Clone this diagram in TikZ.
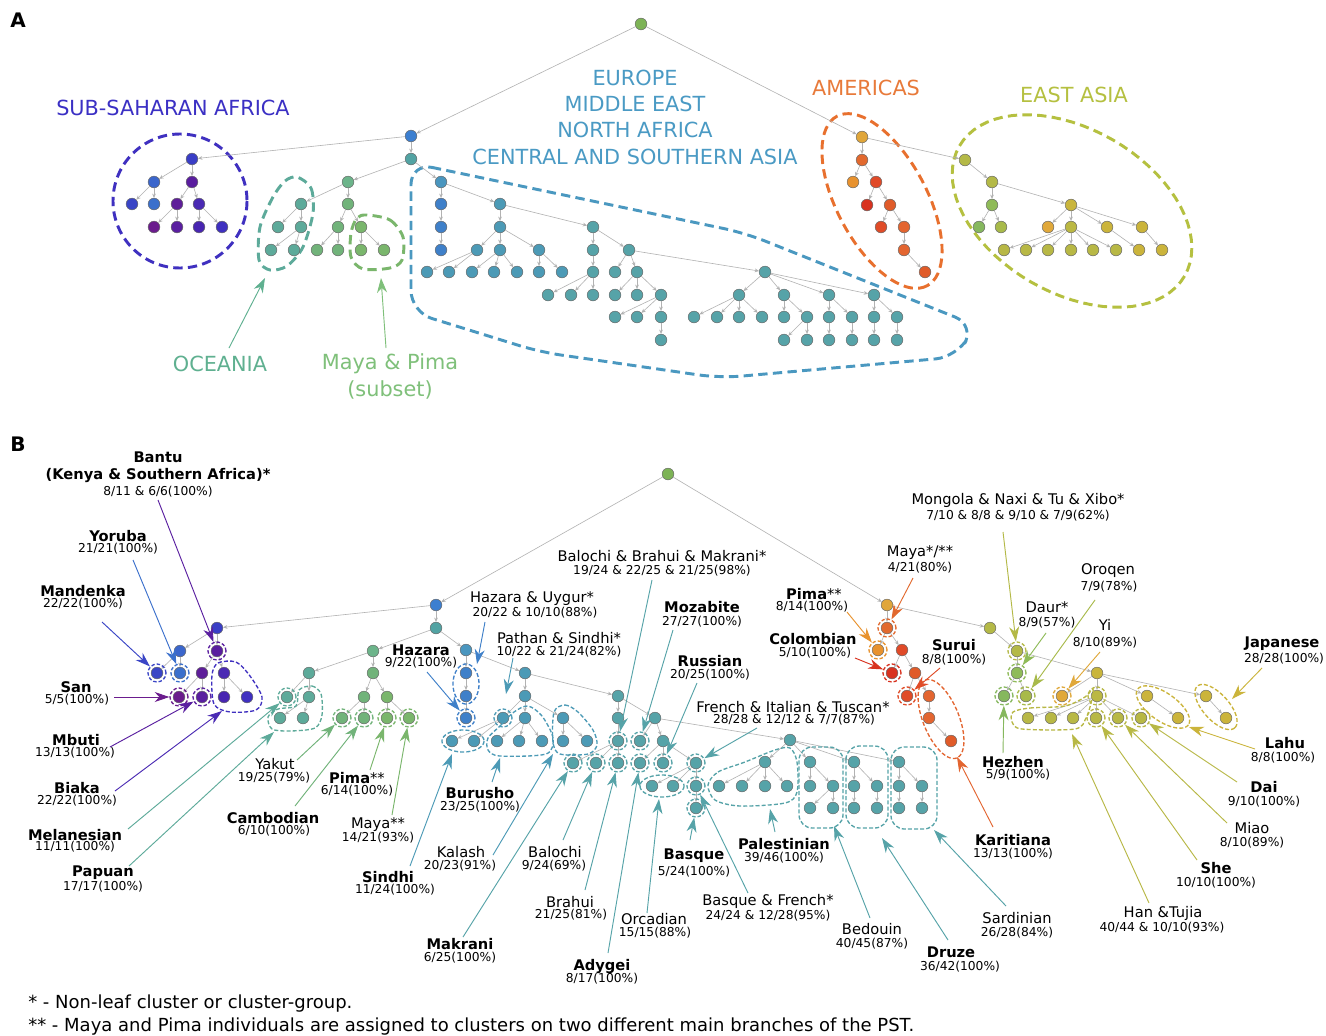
\documentclass[tikz,border=0pt]{standalone}
\usepackage{fontspec}
\setmainfont{DejaVu Sans}
\usetikzlibrary{arrows.meta}
\definecolor{kroot}{HTML}{7DB356}
\definecolor{ke0}{HTML}{3C7FD0}
\definecolor{ke1}{HTML}{52A3A3}
\definecolor{kaf0}{HTML}{3A3EC6}
\definecolor{kaf1}{HTML}{3B66CC}
\definecolor{kaf2}{HTML}{5A1D9F}
\definecolor{kaf3}{HTML}{3A45C6}
\definecolor{kaf4}{HTML}{3B70CC}
\definecolor{kaf5}{HTML}{5E1E99}
\definecolor{kaf6}{HTML}{4A2AB3}
\definecolor{kaf7}{HTML}{6B1C8D}
\definecolor{kaf8}{HTML}{5A1FA0}
\definecolor{kaf9}{HTML}{4825B1}
\definecolor{kaf10}{HTML}{3F30C0}
\definecolor{koc0}{HTML}{6CB48A}
\definecolor{kocT}{HTML}{5DAA9A}
\definecolor{kocG}{HTML}{71B37A}
\definecolor{kocG2}{HTML}{7AB66C}
\definecolor{kca0}{HTML}{4A96BF}
\definecolor{kcaB}{HTML}{3F80C9}
\definecolor{kcaT}{HTML}{4C9AB6}
\definecolor{keu}{HTML}{56A3A8}
\definecolor{kam0}{HTML}{E0A63A}
\definecolor{kam1}{HTML}{E2692E}
\definecolor{kam2}{HTML}{E8922E}
\definecolor{kam3}{HTML}{E04A28}
\definecolor{kam4}{HTML}{D8321F}
\definecolor{kam5}{HTML}{E05B29}
\definecolor{kam6}{HTML}{E04C28}
\definecolor{kam7}{HTML}{E36530}
\definecolor{kea0}{HTML}{B4B947}
\definecolor{kea2}{HTML}{8FBB58}
\definecolor{kea3}{HTML}{86B85E}
\definecolor{kea4}{HTML}{A8BA4A}
\definecolor{kea5}{HTML}{C9B53C}
\definecolor{kea6}{HTML}{E0A83A}
\definecolor{kea7}{HTML}{BBB843}
\definecolor{keaY}{HTML}{CBB43B}
\definecolor{keaL}{HTML}{B8B845}
\definecolor{ktAf}{HTML}{3B30C4}
\definecolor{ktEu}{HTML}{4A9AC4}
\definecolor{ktAm}{HTML}{E87A3A}
\definecolor{ktEa}{HTML}{B5C040}
\definecolor{ktOc}{HTML}{5FB090}
\definecolor{ktMp}{HTML}{7FC07A}
\definecolor{kaEu}{HTML}{4A98C0}
\definecolor{kaAm}{HTML}{E8702E}
\newcommand\drawtree[1]{%
\foreach \p/\q in {R/E0,R/AM0,E0/AF0,E0/E1,AF0/AF1,AF0/AF2,AF1/AF3,AF1/AF4,AF2/AF5,AF2/AF6,AF5/AF7,AF5/AF8,AF6/AF9,AF6/AF10,E1/OC0,E1/CA0,OC0/OC1,OC0/OC2,OC1/OC3,OC1/OC4,OC4/OC7,OC4/OC8,OC2/OC5,OC2/OC6,OC5/OC9,OC5/OC10,OC6/OC11,OC6/OC12,CA0/CA1,CA1/CA2,CA2/CA3,CA0/CA4,CA4/CA5,CA5/CA6,CA5/CA7,CA5/CA8,CA6/CA9,CA6/CA10,CA7/CA11,CA7/CA12,CA7/CA13,CA8/CA14,CA8/CA15,CA4/EU0,EU0/EU1,EU0/EU2,EU1/EU3,EU3/EU4,EU3/EU5,EU3/EU6,EU2/EU7,EU2/EU8,EU8/EU9,EU8/EU10,EU8/EU11,EU11/EU12,EU11/EU13,EU11/EU14,EU14/EU15,EU2/EU16,EU16/EU17,EU16/EU18,EU16/EU19,EU16/EU20,EU17/EU21,EU17/EU22,EU17/EU23,EU17/EU24,EU18/EU25,EU18/EU26,EU26/EU27,EU26/EU28,EU19/EU29,EU19/EU30,EU29/EU31,EU30/EU32,EU20/EU33,EU20/EU34,EU33/EU35,EU34/EU36,AM0/AM1,AM1/AM2,AM1/AM3,AM3/AM4,AM3/AM5,AM5/AM6,AM5/AM7,AM7/AM8,AM8/AM9,AM0/EA0,EA0/EA1,EA1/EA2,EA2/EA3,EA2/EA4,EA1/EA5,EA5/EA6,EA5/EA7,EA5/EA8,EA5/EA9,EA7/EA10,EA7/EA11,EA7/EA12,EA7/EA13,EA7/EA14,EA7/EA15,EA8/EA16,EA9/EA17}
{\draw[tedge] (#1\p) -- (#1\q);}}
\newcommand\pell[6][]{\draw[#1] plot[domain=0:360,samples=73] ({#2+#4*cos(\x)*cos(#6)-#5*sin(\x)*sin(#6)},{#3+#4*cos(\x)*sin(#6)+#5*sin(\x)*cos(#6)}) -- cycle;}
\begin{document}
\begin{tikzpicture}[x=0.75pt,y=-0.75pt,
 tn/.style={circle,draw=black!60,line width=0.35pt,minimum size=8.8pt,inner sep=0pt,fill=#1},
 tedge/.style={draw=black!30,line width=0.45pt,-{Stealth[length=3.2pt,width=2.8pt]}},
 dc/.style={circle,draw=#1,line width=1pt,dash pattern=on 2.6pt off 1.5pt,minimum size=13.5pt,inner sep=0pt},
 blob/.style={draw=#1,line width=1pt,dash pattern=on 3pt off 1.6pt},
 bigd/.style={draw=#1,line width=2.2pt,dash pattern=on 7pt off 4pt},
 ar/.style={draw=#1,line width=0.7pt,-{Stealth[length=11pt,width=7.5pt,inset=3.5pt]}},
 nb/.style={font=\fontsize{11}{13}\selectfont\bfseries,inner sep=0pt},
 nr/.style={font=\fontsize{11}{13}\selectfont,inner sep=0pt},
 st/.style={font=\fontsize{9.2}{11}\selectfont,inner sep=0pt},
 rg/.style={font=\fontsize{15.6}{18}\selectfont,text=#1,inner sep=0pt},
]
\useasboundingbox[fill=white] (0,0) rectangle (1326,1035);

% ================= PANEL A =================
\node[font=\fontsize{15}{18}\selectfont\bfseries,inner sep=0pt] (labA) at (18,20) {A};
\node[rg=ktAf] (tAf) at (173,108) {SUB-SAHARAN AFRICA};
\node[rg=ktEu] (tEu1) at (635,78) {EUROPE};
\node[rg=ktEu] (tEu2) at (635,104) {MIDDLE EAST};
\node[rg=ktEu] (tEu3) at (635,130) {NORTH AFRICA};
\node[rg=ktEu] (tEu4) at (635,157) {CENTRAL AND SOUTHERN ASIA};
\node[rg=ktAm] (tAm) at (866,88) {AMERICAS};
\node[rg=ktEa] (tEa) at (1074,95) {EAST ASIA};
\node[rg=ktOc] (tOc) at (220,364) {OCEANIA};
\node[rg=ktMp] (tMp1) at (390,364) {Maya \& Pima};
\node[rg=ktMp] (tMp2) at (390,390) {(subset)};

% region outlines
\draw[bigd=kaf10] (180,201) circle[radius=67];
\draw[bigd=kocT] plot[smooth cycle] coordinates {(297,177) (311,188) (313,213) (303,247) (287,266) (270,270) (259,260) (260,227) (273,197) (285,181)};
\draw[bigd=kocG2] plot[smooth cycle] coordinates {(367,215) (390,220) (403,237) (402,260) (390,268) (363,269) (351,257) (351,233) (357,218)};
\draw[bigd=kaEu,rounded corners=16pt] (411,163) -- (745,233) -- (975,325) -- (957,357) -- (720,378) -- (540,352) -- (411,312) -- cycle;
\pell[bigd=kaAm]{882}{201}{96}{45}{62}
\pell[bigd=ktEa]{1072}{211}{130}{82}{30}

\coordinate (sOcA) at (229,348);
\coordinate (eOcA) at (265,278);
\coordinate (sMpA) at (386,348);
\coordinate (eMpA) at (381,278);
\draw[ar=ktOc] (sOcA) -- (eOcA);
\draw[ar=ktMp] (sMpA) -- (eMpA);

\foreach \n/\x/\y/\c in {aR/641/24/kroot,aE0/411/136/ke0,aE1/411/159/ke1,
aAF0/192/159/kaf0,aAF1/154/182/kaf1,aAF2/192/182/kaf2,aAF3/132/204/kaf3,aAF4/154/204/kaf4,aAF5/177/204/kaf5,aAF6/199/204/kaf6,aAF7/154/227/kaf7,aAF8/177/227/kaf8,aAF9/199/227/kaf9,aAF10/222/227/kaf10,
aOC0/348/182/koc0,aOC1/301/204/kocT,aOC2/348/204/kocG,aOC3/278/227/kocT,aOC4/301/227/kocT,aOC5/338/227/kocG,aOC6/361/227/kocG2,aOC7/271/250/kocT,aOC8/294/250/kocT,aOC9/317/250/kocG,aOC10/338/250/kocG,aOC11/361/250/kocG2,aOC12/384/250/kocG2,
aCA0/441/182/kca0,aCA1/441/204/kcaB,aCA2/441/227/kcaB,aCA3/441/250/kcaB,aCA4/500/204/kcaT,aCA5/500/227/kcaT,aCA6/477/250/kcaT,aCA7/500/250/kcaT,aCA8/539/250/kcaT,aCA9/427/272/kcaT,aCA10/449/272/kcaT,aCA11/472/272/kcaT,aCA12/494/272/kcaT,aCA13/517/272/kcaT,aCA14/539/272/kcaT,aCA15/562/272/kcaT,
aEU0/593/227/keu,aEU1/593/250/keu,aEU2/629/250/keu,aEU3/593/272/keu,aEU4/548/295/keu,aEU5/571/295/keu,aEU6/593/295/keu,aEU7/615/272/keu,aEU8/637/272/keu,aEU9/615/295/keu,aEU10/637/295/keu,aEU11/661/295/keu,aEU12/615/317/keu,aEU13/637/317/keu,aEU14/661/317/keu,aEU15/661/340/keu,
aEU16/765/272/keu,aEU17/739/295/keu,aEU18/784/295/keu,aEU19/829/295/keu,aEU20/874/295/keu,aEU21/694/317/keu,aEU22/717/317/keu,aEU23/739/317/keu,aEU24/762/317/keu,aEU25/784/317/keu,aEU26/807/317/keu,aEU27/784/340/keu,aEU28/807/340/keu,aEU29/829/317/keu,aEU30/852/317/keu,aEU31/829/340/keu,aEU32/852/340/keu,aEU33/874/317/keu,aEU34/897/317/keu,aEU35/874/340/keu,aEU36/897/340/keu,
aAM0/862/137/kam0,aAM1/862/160/kam1,aAM2/853/182/kam2,aAM3/876/182/kam3,aAM4/867/205/kam4,aAM5/890/205/kam5,aAM6/881/227/kam6,aAM7/904/227/kam7,aAM8/904/250/kam7,aAM9/925/272/kam5,
aEA0/965/160/kea0,aEA1/992/182/kea0,aEA2/992/205/kea2,aEA3/979/227/kea3,aEA4/1001/227/kea4,aEA5/1071/205/kea5,aEA6/1048/227/kea6,aEA7/1071/227/kea7,aEA8/1107/227/keaY,aEA9/1142/227/keaY,
aEA10/1004/250/keaL,aEA11/1026/250/keaL,aEA12/1048/250/keaL,aEA13/1071/250/keaL,aEA14/1093/250/keaL,aEA15/1116/250/keaL,aEA16/1139/250/keaY,aEA17/1162/250/keaY}
{\node[tn=\c] (\n) at (\x,\y) {};}
\drawtree{a}

% ================= PANEL B =================
\node[font=\fontsize{15}{18}\selectfont\bfseries,inner sep=0pt] (labB) at (18,444) {B};

\foreach \n/\x/\y/\c in {bR/668/474/kroot,bE0/436/605/ke0,bE1/436/628/ke1,
bAF0/217/628/kaf0,bAF1/180/651/kaf1,bAF2/217/651/kaf2,bAF3/157/673/kaf3,bAF4/180/673/kaf4,bAF5/202/673/kaf5,bAF6/224/673/kaf6,bAF7/179/697/kaf7,bAF8/202/697/kaf8,bAF9/224/697/kaf9,bAF10/247/697/kaf10,
bOC0/373/651/koc0,bOC1/309/673/kocT,bOC2/373/673/kocG,bOC3/287/697/kocT,bOC4/309/697/kocT,bOC5/364/697/kocG,bOC6/387/697/kocG2,bOC7/280/718/kocT,bOC8/303/718/kocT,bOC9/342/718/kocG,bOC10/364/718/kocG,bOC11/387/718/kocG2,bOC12/409/718/kocG2,
bCA0/466/650/kca0,bCA1/466/673/kcaB,bCA2/466/696/kcaB,bCA3/466/718/kcaB,bCA4/525/673/kcaT,bCA5/525/696/kcaT,bCA6/503/718/kcaT,bCA7/525/718/kcaT,bCA8/563/718/kcaT,bCA9/452/741/kcaT,bCA10/474/741/kcaT,bCA11/497/741/kcaT,bCA12/519/741/kcaT,bCA13/542/741/kcaT,bCA14/563/741/kcaT,bCA15/587/741/kcaT,
bEU0/618/696/keu,bEU1/618/718/keu,bEU2/655/718/keu,bEU3/618/741/keu,bEU4/573/763/keu,bEU5/596/763/keu,bEU6/618/763/keu,bEU7/640/741/keu,bEU8/663/741/keu,bEU9/640/763/keu,bEU10/663/763/keu,bEU11/696/763/keu,bEU12/652/786/keu,bEU13/673/786/keu,bEU14/696/786/keu,bEU15/696/808/keu,
bEU16/790/740/keu,bEU17/765/762/keu,bEU18/810/762/keu,bEU19/854/762/keu,bEU20/899/762/keu,bEU21/719/786/keu,bEU22/742/786/keu,bEU23/765/786/keu,bEU24/787/786/keu,bEU25/810/786/keu,bEU26/833/786/keu,bEU27/810/808/keu,bEU28/833/808/keu,bEU29/854/786/keu,bEU30/877/786/keu,bEU31/854/808/keu,bEU32/877/808/keu,bEU33/899/786/keu,bEU34/922/786/keu,bEU35/899/808/keu,bEU36/922/808/keu,
bAM0/887/605/kam0,bAM1/887/628/kam1,bAM2/878/650/kam2,bAM3/902/650/kam3,bAM4/892/673/kam4,bAM5/915/673/kam5,bAM6/907/696/kam6,bAM7/929/696/kam7,bAM8/929/718/kam7,bAM9/951/741/kam5,
bEA0/990/628/kea0,bEA1/1017/651/kea0,bEA2/1017/673/kea2,bEA3/1004/696/kea3,bEA4/1026/696/kea4,bEA5/1097/673/kea5,bEA6/1062/696/kea6,bEA7/1097/696/kea7,bEA8/1147/696/keaY,bEA9/1206/696/keaY,
bEA10/1028/718/keaL,bEA11/1051/718/keaL,bEA12/1073/718/keaL,bEA13/1096/718/keaL,bEA14/1118/718/keaL,bEA15/1141/718/keaL,bEA16/1178/718/keaY,bEA17/1226/718/keaY}
{\node[tn=\c] (\n) at (\x,\y) {};}
\drawtree{b}

% dashed circles
\foreach \n/\c in {AF2/kaf2,AF3/kaf3,AF4/kaf4,AF7/kaf7,AF8/kaf8,OC3/kocT,OC9/kocG,OC10/kocG,OC11/kocG2,OC12/kocG2,CA3/kcaB,CA6/kcaT,EU3/keu,EU4/keu,EU5/keu,EU6/keu,EU7/keu,EU9/keu,EU10/keu,EU11/keu,EU14/keu,EU15/keu,AM1/kam1,AM2/kam2,AM4/kam4,AM6/kam6,EA1/kea0,EA2/kea2,EA3/kea3,EA4/kea4,EA6/kea6,EA7/keaL,EA13/keaL,EA14/keaL,EA15/keaL}
{\node[dc=\c] (d\n) at (b\n) {};}

% dashed groups
\draw[blob=kaf10] plot[smooth cycle] coordinates {(212,675) (218,663) (236,662) (250,676) (262,697) (256,710) (230,712) (214,704)};
\draw[blob=kocT] plot[smooth cycle] coordinates {(299,690) (312,686) (321,694) (322,715) (315,728) (290,731) (272,729) (268,717) (278,709) (296,706)};
\pell[blob=kcaB]{466}{684}{20}{13}{90}
\pell[blob=kcaT]{463}{741}{21}{11}{0}
\draw[blob=kcaT] plot[smooth cycle] coordinates {(488,738) (500,726) (514,712) (528,706) (542,716) (553,738) (546,754) (500,756) (488,750)};
\draw[blob=kcaT] plot[smooth cycle] coordinates {(554,712) (565,705) (578,712) (593,730) (597,745) (588,754) (560,754) (553,742)};
\pell[blob=keu]{662}{786}{22}{11}{0}
\draw[blob=keu] plot[smooth cycle] coordinates {(708,785) (718,772) (745,762) (775,750) (790,748) (797,762) (797,792) (785,803) (740,806) (715,800)};
\draw[blob=keu,rounded corners=10pt] (799,747) rectangle (843,828);
\draw[blob=keu,rounded corners=10pt] (846,746) rectangle (888,828);
\draw[blob=keu,rounded corners=10pt] (891,747) rectangle (937,829);
\pell[blob=kam7]{941}{719}{42}{18}{68}
\draw[blob=keaL] plot[smooth cycle] coordinates {(1013,712) (1030,708) (1065,706) (1085,697) (1093,689) (1091,703) (1086,718) (1075,729) (1022,729) (1012,722)};
\pell[blob=keaY]{1163}{707}{31}{14}{35}
\pell[blob=keaY]{1216}{707}{28}{13}{48}

% labels
\node[nb] (lBantu) at (158,457) {Bantu};
\node[nb] (lBantuB) at (158,476) {(Kenya \& Southern Africa)*};
\node[st] (lBantuS) at (158,492) {8/11 \& 6/6(100\%)};
\node[nb] (lYoruba) at (118,536) {Yoruba}; \node[st] (lYorubaS) at (118,549) {21/21(100\%)};
\node[nb] (lMandenka) at (83,591) {Mandenka}; \node[st] (lMandenkaS) at (83,604) {22/22(100\%)};
\node[nb] (lSan) at (76,687) {San}; \node[st] (lSanS) at (77,700) {5/5(100\%)};
\node[nb] (lMbuti) at (76,740) {Mbuti}; \node[st] (lMbutiS) at (75,753) {13/13(100\%)};
\node[nb] (lBiaka) at (77,788) {Biaka}; \node[st] (lBiakaS) at (77,801) {22/22(100\%)};
\node[nb] (lMel) at (75,835) {Melanesian}; \node[st] (lMelS) at (75,847) {11/11(100\%)};
\node[nb] (lPap) at (103,873) {Papuan}; \node[st] (lPapS) at (103,887) {17/17(100\%)};
\node[nr] (lYak) at (275,764) {Yakut}; \node[st] (lYakS) at (274,778) {19/25(79\%)};
\node[nb] (lCam) at (273,818) {Cambodian}; \node[st] (lCamS) at (274,831) {6/10(100\%)};
\node[nb] (lPimaB) at (357,778) {Pima\textmd{**}}; \node[st] (lPimaBS) at (357,791) {6/14(100\%)};
\node[nr] (lMayaB) at (378,825) {Maya**}; \node[st] (lMayaBS) at (378,838) {14/21(93\%)};
\node[nb] (lHaz) at (421,650) {Hazara}; \node[st] (lHazS) at (421,663) {9/22(100\%)};
\node[nr] (lHU) at (532,599) {Hazara \& Uygur*}; \node[st] (lHUS) at (535,613) {20/22 \& 10/10(88\%)};
\node[nr] (lPS) at (559,638) {Pathan \& Sindhi*}; \node[st] (lPSS) at (559,652) {10/22 \& 21/24(82\%)};
\node[nb] (lBur) at (480,793) {Burusho}; \node[st] (lBurS) at (480,807) {23/25(100\%)};
\node[nb] (lSin) at (388,877) {Sindhi}; \node[st] (lSinS) at (395,890) {11/24(100\%)};
\node[nr] (lKal) at (461,852) {Kalash}; \node[st] (lKalS) at (460,866) {20/23(91\%)};
\node[nr] (lBal) at (555,852) {Balochi}; \node[st] (lBalS) at (554,866) {9/24(69\%)};
\node[nr] (lBra) at (570,902) {Brahui}; \node[st] (lBraS) at (571,915) {21/25(81\%)};
\node[nb] (lMak) at (460,944) {Makrani}; \node[st] (lMakS) at (460,958) {6/25(100\%)};
\node[nb] (lAdy) at (602,966) {Adygei}; \node[st] (lAdyS) at (602,979) {8/17(100\%)};
\node[nr] (lOrc) at (654,919) {Orcadian}; \node[st] (lOrcS) at (655,933) {15/15(88\%)};
\node[nb] (lBas) at (694,856) {Basque}; \node[st] (lBasS) at (694,872) {5/24(100\%)};
\node[nr] (lBF) at (768,901) {Basque \& French*}; \node[st] (lBFS) at (768,916) {24/24 \& 12/28(95\%)};
\node[nb] (lPal) at (784,844) {Palestinian}; \node[st] (lPalS) at (784,858) {39/46(100\%)};
\node[nb] (lMoz) at (702,607) {Mozabite}; \node[st] (lMozS) at (702,622) {27/27(100\%)};
\node[nb] (lRus) at (710,661) {Russian}; \node[st] (lRusS) at (710,675) {20/25(100\%)};
\node[nr] (lBBM) at (662,556) {Balochi \& Brahui \& Makrani*}; \node[st] (lBBMS) at (662,571) {19/24 \& 22/25 \& 21/25(98\%)};
\node[nr] (lFIT) at (793,707) {French \& Italian \& Tuscan*}; \node[st] (lFITS) at (794,720) {28/28 \& 12/12 \& 7/7(87\%)};
\node[nr] (lBed) at (872,929) {Bedouin}; \node[st] (lBedS) at (872,944) {40/45(87\%)};
\node[nb] (lDru) at (951,952) {Druze}; \node[st] (lDruS) at (960,967) {36/42(100\%)};
\node[nr] (lSar) at (1017,918) {Sardinian}; \node[st] (lSarS) at (1017,933) {26/28(84\%)};
\node[nb] (lKar) at (1013,840) {Karitiana}; \node[st] (lKarS) at (1013,854) {13/13(100\%)};
\node[nb] (lSur) at (954,645) {Surui}; \node[st] (lSurS) at (954,660) {8/8(100\%)};
\node[nb] (lCol) at (813,639) {Colombian}; \node[st] (lColS) at (815,653) {5/10(100\%)};
\node[nb] (lPimaA) at (814,594) {Pima\textmd{**}}; \node[st] (lPimaAS) at (812,607) {8/14(100\%)};
\node[nr] (lMayaA) at (920,553) {Maya*/**}; \node[st] (lMayaAS) at (920,568) {4/21(80\%)};
\node[nr] (lMon) at (1018,500) {Mongola \& Naxi \& Tu \& Xibo*}; \node[st] (lMonS) at (1018,516) {7/10 \& 8/8 \& 9/10 \& 7/9(62\%)};
\node[nr] (lDaur) at (1047,607) {Daur*}; \node[st] (lDaurS) at (1047,623) {8/9(57\%)};
\node[nr] (lOro) at (1108,571) {Oroqen}; \node[st] (lOroS) at (1109,587) {7/9(78\%)};
\node[nr] (lYi) at (1105,625) {Yi}; \node[st] (lYiS) at (1105,643) {8/10(89\%)};
\node[nb] (lJap) at (1282,644) {Japanese}; \node[st] (lJapS) at (1284,659) {28/28(100\%)};
\node[nb] (lHez) at (1013,762) {Hezhen}; \node[st] (lHezS) at (1018,775) {5/9(100\%)};
\node[nb] (lLahu) at (1285,743) {Lahu}; \node[st] (lLahuS) at (1283,758) {8/8(100\%)};
\node[nb] (lDai) at (1264,787) {Dai}; \node[st] (lDaiS) at (1264,802) {9/10(100\%)};
\node[nr] (lMiao) at (1252,828) {Miao}; \node[st] (lMiaoS) at (1252,843) {8/10(89\%)};
\node[nb] (lShe) at (1216,868) {She}; \node[st] (lSheS) at (1216,883) {10/10(100\%)};
\node[nr] (lHan) at (1163,913) {Han \&Tujia}; \node[st] (lHanS) at (1162,928) {40/44 \& 10/10(93\%)};

% arrow anchor coordinates
\foreach \n/\x/\y in {sBantu/158/500,sYor/133/560,sMan/102/622,sSan/114/697,sMbu/110/747,sBia/115/791,cBia/222/711,sMel/128/829,sPap/129/866,cPap/274/732,sYak/297/760,sCam/295/806,sPimB/370/770,sMayB/392/815,sHaz/427/672,sHU/485/622,cHU/477/664,sPS/513/658,cPS/506/694,sBur/492/782,cBur/500/758,sSin/410/866,cSin/452/754,sKal/493/855,cKal/553/754,sBal/563/840,sMak/463/937,sBra/585/890,sAdy/608/953,sOrc/647/913,cOrc/659/799,sBas/690/840,sBF/748/893,sBBM/652/580,sMoz/673/630,sRus/697/683,sFIT/757/728,sPal/775/832,cPal/770/809,sBed/870/918,cBed/834/826,sDru/948/940,cDru/882/838,sSar/1006/906,cSar/934/830,sKar/993/827,cKar/957/757,sSur/940/668,sCol/855/658,sPimA/847/612,sMayA/913/578,sMon/1003/532,sDaur/1046/633,sOro/1095/600,sYi/1100/652,sJap/1262/668,cJap/1232/699,sHez/1003/753,sLahu/1255/749,cLahu/1189/727,sDai/1237/782,sMiao/1227/823,sShe/1197/860,sHan/1149/903,cHan/1072/734}
{\coordinate (\n) at (\x,\y);}

% arrows
\draw[ar=kaf8] (sBantu) -- (dAF2);
\draw[ar=kaf4] (sYor) -- (dAF4);
\draw[ar=kaf3] (sMan) -- (dAF3);
\draw[ar=kaf7] (sSan) -- (dAF7);
\draw[ar=kaf8] (sMbu) -- (dAF8);
\draw[ar=kaf6] (sBia) -- (cBia);
\draw[ar=kocT] (sMel) -- (dOC3);
\draw[ar=kocT] (sPap) -- (cPap);
\draw[ar=kocG] (sYak) -- (dOC9);
\draw[ar=kocG] (sCam) -- (dOC10);
\draw[ar=kocG2] (sPimB) -- (dOC11);
\draw[ar=kocG2] (sMayB) -- (dOC12);
\draw[ar=kcaB] (sHaz) -- (dCA3);
\draw[ar=kcaB] (sHU) -- (cHU);
\draw[ar=kcaT] (sPS) -- (cPS);
\draw[ar=kcaT] (sBur) -- (cBur);
\draw[ar=kcaT] (sSin) -- (cSin);
\draw[ar=kcaT] (sKal) -- (cKal);
\draw[ar=keu] (sBal) -- (dEU5);
\draw[ar=keu] (sMak) -- (dEU4);
\draw[ar=keu] (sBra) -- (dEU6);
\draw[ar=keu] (sAdy) -- (dEU9);
\draw[ar=keu] (sOrc) -- (cOrc);
\draw[ar=keu] (sBas) -- (dEU15);
\draw[ar=keu] (sBF) -- (dEU14);
\draw[ar=keu] (sBBM) -- (dEU3);
\draw[ar=keu] (sMoz) -- (dEU7);
\draw[ar=keu] (sRus) -- (dEU10);
\draw[ar=keu] (sFIT) -- (dEU11);
\draw[ar=keu] (sPal) -- (cPal);
\draw[ar=keu] (sBed) -- (cBed);
\draw[ar=keu] (sDru) -- (cDru);
\draw[ar=keu] (sSar) -- (cSar);
\draw[ar=kam7] (sKar) -- (cKar);
\draw[ar=kam6] (sSur) -- (dAM6);
\draw[ar=kam4] (sCol) -- (dAM4);
\draw[ar=kam2] (sPimA) -- (dAM2);
\draw[ar=kam1] (sMayA) -- (dAM1);
\draw[ar=kea0] (sMon) -- (dEA1);
\draw[ar=kea2] (sDaur) -- (dEA2);
\draw[ar=kea4] (sOro) -- (dEA4);
\draw[ar=kea6] (sYi) -- (dEA6);
\draw[ar=keaY] (sJap) -- (cJap);
\draw[ar=kea3] (sHez) -- (dEA3);
\draw[ar=keaY] (sLahu) -- (cLahu);
\draw[ar=keaL] (sDai) -- (dEA15);
\draw[ar=keaL] (sMiao) -- (dEA14);
\draw[ar=keaL] (sShe) -- (dEA13);
\draw[ar=keaL] (sHan) -- (cHan);

% footnotes
\node[anchor=west,inner sep=0pt,font=\fontsize{13.5}{16}\selectfont] (fn1) at (28,1004) {* - Non-leaf cluster or cluster-group.};
\node[anchor=west,inner sep=0pt,font=\fontsize{13.5}{16}\selectfont] (fn2) at (28,1027) {** - Maya and Pima individuals are assigned to clusters on two different main branches of the PST.};
\end{tikzpicture}
\end{document}
